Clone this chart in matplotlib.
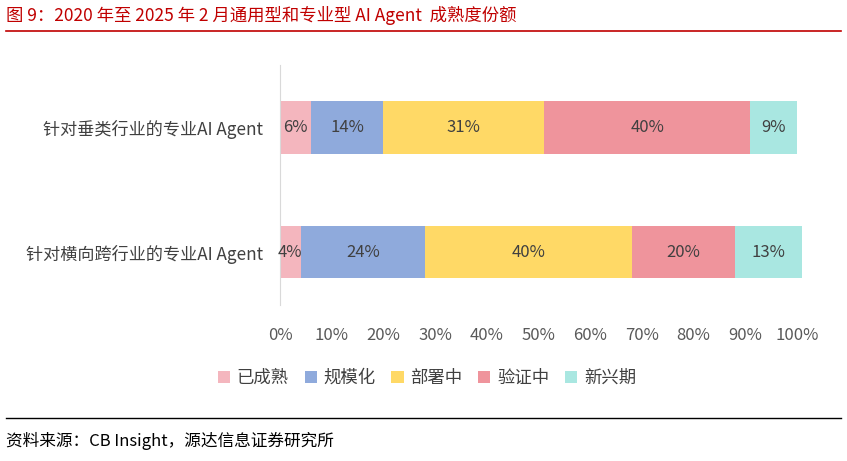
import matplotlib.pyplot as plt
from matplotlib.lines import Line2D

plt.rcParams["font.family"] = ["Noto Sans CJK SC", "DejaVu Sans"]

categories = ["针对横向跨行业的专业AI Agent", "针对垂类行业的专业AI Agent"]
stages = ["已成熟", "规模化", "部署中", "验证中", "新兴期"]
values = {
    "已成熟": [4, 6],
    "规模化": [24, 14],
    "部署中": [40, 31],
    "验证中": [20, 40],
    "新兴期": [13, 9],
}
colors = ["#F4B6BE", "#8FAADC", "#FFD966", "#EF949C", "#A9E7E1"]
xticks = list(range(0, 101, 10))

fig = plt.figure(figsize=(8.47, 4.61), dpi=100)
ax = fig.add_axes([280 / 847, 1 - 305 / 461, 517 / 847, 240 / 461])

left = [0, 0]
for stage, color in zip(stages, colors):
    vals = values[stage]
    bars = ax.barh(range(len(categories)), vals, left=left, height=0.42,
                   color=color, label=stage, clip_on=False)
    for bar, v in zip(bars, vals):
        ax.text(bar.get_x() + bar.get_width() / 2, bar.get_y() + bar.get_height() / 2,
                f"{v}%", ha="center", va="center", fontsize=12, color="#404040")
    left = [a + b for a, b in zip(left, vals)]

ax.set_xlim(0, 100)
ax.set_ylim(-0.424, 1.5)
ax.set_xticks(xticks)
ax.set_xticklabels([f"{t}%" for t in xticks], fontsize=12, color="#595959")
ax.set_yticks(range(len(categories)))
ax.set_yticklabels(categories, fontsize=12.3, color="#404040")
ax.tick_params(length=0, pad=16)
ax.tick_params(axis="y", pad=12)
for s in ["top", "right", "bottom"]:
    ax.spines[s].set_visible(False)
ax.spines["left"].set_color("#D9D9D9")

handles, labels = ax.get_legend_handles_labels()
fig.legend(handles, labels, loc="center", bbox_to_anchor=(427 / 847, 1 - 378 / 461),
           ncol=5, frameon=False, fontsize=12.5, handlelength=0.7, handleheight=0.7,
           columnspacing=0.9, handletextpad=0.4, labelcolor="#404040")

fig.text(6 / 847, 1 - 15 / 461, "图 9：2020 年至 2025 年 2 月通用型和专业型 AI Agent  成熟度份额",
         fontsize=12.5, color="#C00000", va="center")
fig.add_artist(Line2D([6 / 847, 841 / 847], [1 - 31 / 461] * 2, color="#C00000", lw=1.2))
fig.add_artist(Line2D([6 / 847, 841 / 847], [1 - 418 / 461] * 2, color="black", lw=1))
fig.text(6 / 847, 1 - 441 / 461, "资料来源：CB Insight，源达信息证券研究所",
         fontsize=12, color="black", va="center")

fig.savefig("out.png", dpi=100)
